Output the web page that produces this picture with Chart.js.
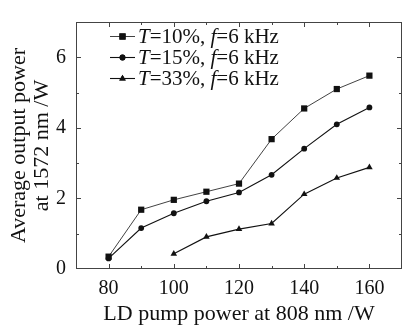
<!DOCTYPE html>
<html>
<head>
<meta charset="utf-8">
<script src="https://cdn.jsdelivr.net/npm/chart.js@4"></script>
<style>
  html, body { margin: 0; padding: 0; background: #fff; }
  #wrap { width: 410px; height: 329px; }
</style>
</head>
<body>
<div id="wrap"><canvas id="chart" width="410" height="329"></canvas></div>
<script>
var pumpPower = [80, 90, 100, 110, 120, 130, 140, 150, 160];
var outT10 = [0.35, 1.68, 1.96, 2.19, 2.42, 3.68, 4.55, 5.10, 5.48];
var outT15 = [0.30, 1.16, 1.58, 1.92, 2.17, 2.67, 3.41, 4.10, 4.58];
var outT33 = [null, null, 0.43, 0.91, 1.13, 1.29, 2.12, 2.58, 2.88];
var legendRates = ["10%", "15%", "33%"];
var xLabelTicks = [80, 100, 120, 140, 160];
var yLabelTicks = [0, 2, 4, 6];

var FONT = "'Liberation Serif', 'Times New Roman', serif";
var INK = "#111";

function pts(ys) {
  var out = [];
  for (var i = 0; i < pumpPower.length; i++) {
    if (ys[i] !== null) out.push({ x: pumpPower[i], y: ys[i] });
  }
  return out;
}

// frame with inward ticks on all four sides
var framePlugin = {
  id: "frame",
  afterDraw: function(chart) {
    var ctx = chart.ctx, a = chart.chartArea;
    var xs = chart.scales.x, ys = chart.scales.y;
    ctx.save();
    ctx.strokeStyle = "#444";
    ctx.lineWidth = 1;
    ctx.strokeRect(a.left + 0.5, a.top + 0.5, a.right - a.left - 1, a.bottom - a.top - 1);
    ctx.beginPath();
    for (var v = 80; v <= 160; v += 10) {
      var px = Math.round(xs.getPixelForValue(v)) + 0.5;
      var len = (v % 20 === 0) ? 5 : 3;
      ctx.moveTo(px, a.bottom); ctx.lineTo(px, a.bottom - len);
      ctx.moveTo(px, a.top); ctx.lineTo(px, a.top + len);
    }
    for (var w = 1; w <= 6; w++) {
      var py = Math.round(ys.getPixelForValue(w)) + 0.5;
      var l2 = (w % 2 === 0) ? 5 : 3;
      ctx.moveTo(a.left, py); ctx.lineTo(a.left + l2, py);
      ctx.moveTo(a.right, py); ctx.lineTo(a.right - l2, py);
    }
    ctx.stroke();
    ctx.restore();
  }
};

// legend drawn inside the plot, italic T and f
var legendPlugin = {
  id: "innerLegend",
  afterDraw: function(chart) {
    var ctx = chart.ctx;
    var sets = chart.data.datasets;
    ctx.save();
    for (var i = 0; i < sets.length; i++) {
      var ds = sets[i];
      var y = 36 + i * 21;
      ctx.strokeStyle = INK;
      ctx.lineWidth = ds.borderWidth;
      ctx.beginPath();
      ctx.moveTo(110, y + 0.5); ctx.lineTo(135, y + 0.5);
      ctx.stroke();
      ctx.fillStyle = INK;
      Chart.helpers.drawPoint(ctx, { pointStyle: ds.pointStyle, radius: ds.pointRadius, borderWidth: 0, rotation: 0 }, 122.5, y + 0.5);
      ctx.fill();
      var parts = [["T", "italic "], ["=" + legendRates[i] + ", ", ""], ["f", "italic "], ["=6 kHz", ""]];
      var x = 138;
      ctx.textBaseline = "middle";
      ctx.textAlign = "left";
      for (var j = 0; j < parts.length; j++) {
        ctx.font = parts[j][1] + "21px " + FONT;
        ctx.fillText(parts[j][0], x, y + 1);
        x += ctx.measureText(parts[j][0]).width;
      }
    }
    ctx.restore();
  }
};

new Chart(document.getElementById("chart"), {
  type: "line",
  data: {
    datasets: [
      { label: "T=10%, f=6 kHz", data: pts(outT10), pointStyle: "rect", pointRadius: 4.4, borderWidth: 0.8 },
      { label: "T=15%, f=6 kHz", data: pts(outT15), pointStyle: "circle", pointRadius: 2.9, borderWidth: 1.1 },
      { label: "T=33%, f=6 kHz", data: pts(outT33), pointStyle: "triangle", pointRadius: 3.8, borderWidth: 1.1 }
    ].map(function(d) {
      d.borderColor = INK;
      d.backgroundColor = INK;
      d.pointBackgroundColor = INK;
      d.pointBorderWidth = 0;
      d.pointHoverRadius = d.pointRadius;
      d.tension = 0;
      return d;
    })
  },
  options: {
    responsive: false,
    animation: false,
    layout: { padding: { top: 5, right: 4.5, left: 0, bottom: 0 } },
    plugins: { legend: { display: false }, tooltip: { enabled: false } },
    scales: {
      x: {
        type: "linear",
        min: 70, max: 170,
        grid: { display: false, drawTicks: false },
        border: { display: false },
        afterFit: function(s) { s.height = 60; },
        ticks: {
          stepSize: 10, autoSkip: false, maxRotation: 0, padding: 8,
          color: INK, font: { family: FONT, size: 20 },
          callback: function(v) { return xLabelTicks.indexOf(v) >= 0 ? String(v) : ""; }
        },
        title: {
          display: true, text: "LD pump power at 808 nm /W",
          color: INK, font: { family: FONT, size: 22, lineHeight: 1.05 },
          padding: { top: 0, bottom: 3 }
        }
      },
      y: {
        min: 0, max: 7,
        grid: { display: false, drawTicks: false },
        border: { display: false },
        afterFit: function(s) { s.width = 76; },
        ticks: {
          stepSize: 1, autoSkip: false, padding: 10,
          color: INK, font: { family: FONT, size: 20 },
          callback: function(v) { return yLabelTicks.indexOf(v) >= 0 ? String(v) : ""; }
        },
        title: {
          display: true, text: ["Average output power", "at 1572 nm /W"],
          color: INK, font: { family: FONT, size: 22, lineHeight: 1.05 },
          padding: { top: 8, bottom: 0 }
        }
      }
    }
  },
  plugins: [framePlugin, legendPlugin]
});
</script>
</body>
</html>
